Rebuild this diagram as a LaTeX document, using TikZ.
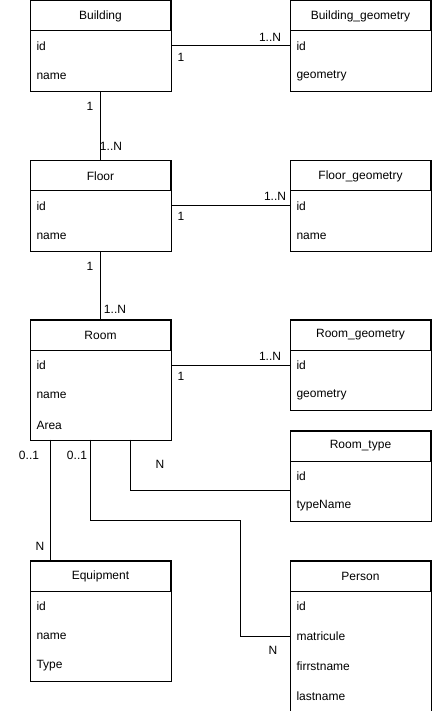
\documentclass[tikz,border=0pt]{standalone}
\usepackage{fontspec}
\setmainfont{Liberation Sans}
\begin{document}
\begin{tikzpicture}[x=1pt,y=-1pt,line width=1pt,
  every node/.style={font=\fontsize{12}{14}\selectfont},
  hdr/.style={draw, minimum width=140pt, minimum height=30pt, anchor=north west, inner sep=0pt},
  fld/.style={minimum width=140pt, minimum height=30pt, anchor=north west, inner xsep=6pt, inner ysep=0pt, text width=128pt, align=left},
  lbl/.style={inner sep=0pt},
  conn/.style={draw}]
\useasboundingbox (0,0) rectangle (431,711);
% Building
\node[hdr] (bld) at (30,0.5) {Building};
\node[fld] (bld1) at (30,30.5) {id};
\node[fld] (bld2) at (30,60.5) {name};
\draw (bld.north west) rectangle (bld2.south east);
% Building_geometry
\node[hdr] (bg) at (290,0.5) {Building\_geometry};
\node[fld] (bg1) at (290,30.5) {id};
\node[fld] (bg2) at (290,60.5) {geometry};
\draw (bg.north west) rectangle (bg2.south east);
% Floor
\node[hdr] (flr) at (30,160.5) {Floor};
\node[fld] (flr1) at (30,190.5) {id};
\node[fld] (flr2) at (30,220.5) {name};
\draw (flr.north west) rectangle (flr2.south east);
% Floor_geometry
\node[hdr] (fg) at (290,160.5) {Floor\_geometry};
\node[fld] (fg1) at (290,190.5) {id};
\node[fld] (fg2) at (290,220.5) {name};
\draw (fg.north west) rectangle (fg2.south east);
% Room
\node[hdr] (room) at (30,319.5) {Room};
\node[fld] (room1) at (30,349.5) {id};
\node[fld] (room2) at (30,379.5) {name};
\node[fld] (room3) at (30,409.5) {Area};
\draw (room.north west) rectangle (room3.south east);
% Room_geometry
\node[hdr] (rg) at (290,319.5) {Room\_geometry};
\node[fld] (rg1) at (290,349.5) {id};
\node[fld] (rg2) at (290,379.5) {geometry};
\draw (rg.north west) rectangle (rg2.south east);
% Room_type
\node[hdr] (rt) at (290,430.5) {Room\_type};
\node[fld] (rt1) at (290,460.5) {id};
\node[fld] (rt2) at (290,490.5) {typeName};
\draw (rt.north west) rectangle (rt2.south east);
% Equipment
\node[hdr] (eq) at (30,560.5) {Equipment};
\node[fld] (eq1) at (30,590.5) {id};
\node[fld] (eq2) at (30,620.5) {name};
\node[fld] (eq3) at (30,650.5) {Type};
\draw (eq.north west) rectangle (eq3.south east);
% Person
\node[hdr] (per) at (290,560.5) {Person};
\node[fld] (per1) at (290,590.5) {id};
\node[fld] (per2) at (290,620.5) {matricule};
\node[fld] (per3) at (290,650.5) {firrstname};
\node[fld] (per4) at (290,680.5) {lastname};
\draw (per.north west) rectangle (per4.south east);
% connectors
\draw[conn] (bld1.east) -- (bg1.west);
\draw[conn] (flr1.east) -- (fg1.west);
\draw[conn] (room1.east) -- (rg1.west);
\draw[conn] (bld2.south) -- (flr.north);
\draw[conn] (flr2.south) -- (room.north);
\coordinate (rA) at (50,439.5);
\coordinate (rB) at (90,439.5);
\coordinate (rC) at (130,439.5);
\coordinate (eqTop) at (50,560.5);
\coordinate (bend1) at (240,520.5);
\draw[conn] (rA) -- (eqTop);
\draw[conn] (rC) |- (rt2.north west);
\draw[conn] (rB) |- (bend1) |- (per2.west);
% labels
\node[lbl] (l1) at (270,37) {1..N};
\node[lbl] (l2) at (181,57) {1};
\node[lbl] (l3) at (275,196) {1..N};
\node[lbl] (l4) at (181,216) {1};
\node[lbl] (l5) at (270,356) {1..N};
\node[lbl] (l6) at (181,376) {1};
\node[lbl] (l7) at (90,106) {1};
\node[lbl] (l8) at (111,146) {1..N};
\node[lbl] (l9) at (90,266) {1};
\node[lbl] (l10) at (115,309) {1..N};
\node[lbl] (l11) at (29,455) {0..1};
\node[lbl] (l12) at (77,455) {0..1};
\node[lbl] (l13) at (160,464) {N};
\node[lbl] (l14) at (40,546) {N};
\node[lbl] (l15) at (273,650) {N};
\end{tikzpicture}
\end{document}
